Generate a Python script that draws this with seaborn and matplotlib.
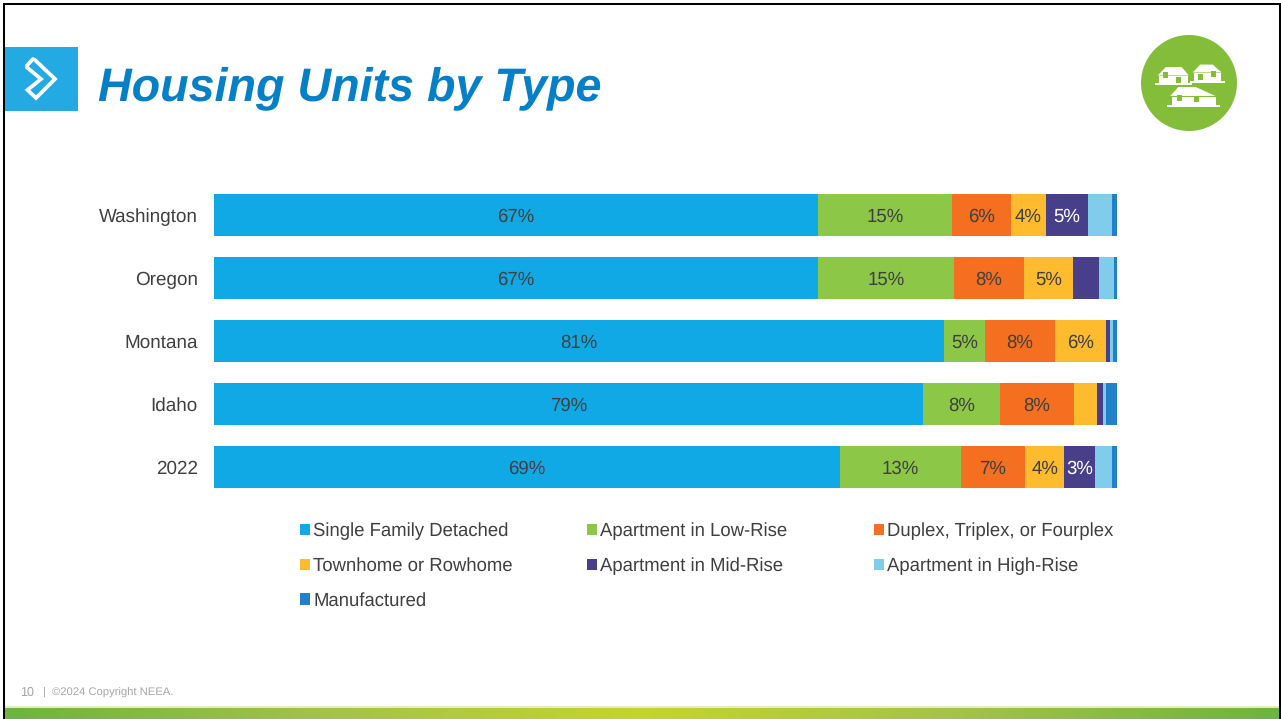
import matplotlib
matplotlib.use('Agg')
import matplotlib.pyplot as plt
from matplotlib.colors import LinearSegmentedColormap
from matplotlib.patches import Circle, Polygon, Rectangle
import numpy as np
import pandas as pd
import seaborn as sns

regions = ['Washington', 'Oregon', 'Montana', 'Idaho', '2022']
single_family = [66.93, 66.93, 80.88, 78.59, 69.31]
low_rise = [14.87, 15.02, 4.51, 8.49, 13.42]
duplex = [6.45, 7.78, 7.82, 8.16, 7.12]
townhome = [3.88, 5.46, 5.61, 2.55, 4.35]
mid_rise = [4.73, 2.85, 0.44, 0.66, 3.40]
high_rise = [2.66, 1.63, 0.30, 0.41, 1.88]
manufactured = [0.48, 0.33, 0.44, 1.14, 0.52]

series_names = ['Single Family Detached', 'Apartment in Low-Rise', 'Duplex, Triplex, or Fourplex',
                'Townhome or Rowhome', 'Apartment in Mid-Rise', 'Apartment in High-Rise', 'Manufactured']
series_values = [single_family, low_rise, duplex, townhome, mid_rise, high_rise, manufactured]
colors = ['#11A9E5', '#8CC748', '#F56F20', '#FDBB2D', '#483F8B', '#7FCCEB', '#2280CA']
label_colors = ['#404040', '#404040', '#404040', '#404040', 'white', '#404040', '#404040']

W, H = 1281, 719
GREEN = '#84BD3A'

sns.set_theme(style='white')
plt.rcParams['font.family'] = ['Liberation Sans', 'DejaVu Sans']
plt.rcParams['text.hinting'] = 'no_hinting'

fig = plt.figure(figsize=(W / 100, H / 100), dpi=100)

# slide furniture in pixel coordinates
bg = fig.add_axes([0, 0, 1, 1], zorder=0)

band = LinearSegmentedColormap.from_list('band', ['#6DB440', '#A4C24C', '#C4D52A', '#A4C24C', '#6DB440'])
bg.imshow(np.linspace(0, 1, 256).reshape(1, -1), cmap=band, extent=[5, 1279, 719, 707], aspect='auto')
bg.set_xlim(0, W)
bg.set_ylim(H, 0)
bg.axis('off')
bg.add_patch(Rectangle((5, 706), 1274, 1.5, color='#E4EDC0', lw=0))

for rect in [(3, 3, 1276, 2.4), (3, 3, 2.4, 716), (1278.5, 3, 2.4, 716)]:
    bg.add_patch(Rectangle(rect[:2], rect[2], rect[3], color='black', lw=0))

bg.add_patch(Rectangle((5, 47), 73, 64, color='#24AAE2', lw=0))
bg.plot([35, 55, 36, 27.5, 41, 27], [60, 79, 98, 90, 79, 67.5], color='white', lw=2.7,
        solid_joinstyle='miter')
bg.plot([27, 33], [65.5, 59], color='white', lw=2.7)

bg.add_patch(Circle((1189, 83), 48, color=GREEN, lw=0))


def house(left, right, peak_l, peak_r, top, eave, base, windows):
    bg.add_patch(Polygon([(left, eave), (peak_l, top), (peak_r, top), (right, eave)],
                         facecolor='white', edgecolor=GREEN, lw=0.8))
    bg.add_patch(Rectangle((left + 2.5, eave), right - left - 5, base - eave, color='white', lw=0))
    for wx, wy in windows:
        bg.add_patch(Rectangle((wx, wy), 5, 6, color=GREEN, lw=0))
    bg.add_patch(Rectangle((left - 2, base - 0.5), right - left + 4, 2.2, color='white', lw=0))


house(1156.5, 1190, 1165.5, 1182, 66.5, 76, 83.5, [(1163, 72), (1176, 76.5)])
house(1191.5, 1223, 1200, 1213, 64, 73, 81, [(1198, 73.5), (1211, 71)])
house(1169, 1218, 1178, 1196, 86.5, 96.5, 105, [(1177, 95), (1194, 96)])

fig.text(98 / W, 1 - 88 / H, 'Housing Units by Type', color='#0580C6', fontsize=33.6,
         fontweight='bold', fontstyle='italic', va='center', ha='left')
fig.text(20 / W, 1 - 692.5 / H, '10', color='#A6A6A6', fontsize=9, va='center')
fig.text(43 / W, 1 - 692.5 / H, '|', color='#A6A6A6', fontsize=8, va='center')
fig.text(52 / W, 1 - 692.5 / H, '©2024 Copyright NEEA.', color='#A6A6A6', fontsize=8.1, va='center')

# chart
ax = fig.add_axes([213.5 / W, 1 - 498.5 / H, 903.2 / W, 315 / H], zorder=1)
ax.patch.set_alpha(0)

left = np.zeros(len(regions))
for name, values, color, text_color in zip(series_names, series_values, colors, label_colors):
    df = pd.DataFrame({'region': regions, 'share': values})
    sns.barplot(data=df, x='share', y='region', orient='h', left=left, color=color, saturation=1,
                width=0.667, errorbar=None, label=name, legend=False, ax=ax, linewidth=0)
    labels = [f'{v:.0f}%' if v >= 3 else '' for v in values]
    texts = ax.bar_label(ax.containers[-1], labels=labels, label_type='center', color=text_color, fontsize=13.4)
    for t in texts:
        t.xyann = (0, -1.2)
    left = left + np.array(values)

ax.set_xlim(0, 100)
ax.set(xlabel='', ylabel='')
ax.xaxis.set_visible(False)
ax.tick_params(axis='y', length=0, pad=11.4, labelsize=13.6, labelcolor='#404040')
sns.despine(ax=ax, left=True, bottom=True)

# one legend per column, the columns sit at fixed places
handles = ax.containers
columns = [(300, [0, 3, 6]), (587, [1, 4]), (874, [2, 5])]
for x, idx in columns:
    fig.legend([handles[i] for i in idx], [series_names[i] for i in idx], frameon=False,
               loc='upper left', bbox_to_anchor=((x - 16.4) / W, 1 - 505.5 / H), bbox_transform=fig.transFigure,
               fontsize=13.35, labelcolor='#404040', handlelength=0.55, handleheight=0.55, handletextpad=0.16,
               labelspacing=0.92, borderpad=0.4)

fig.savefig('out.png', dpi=100)
